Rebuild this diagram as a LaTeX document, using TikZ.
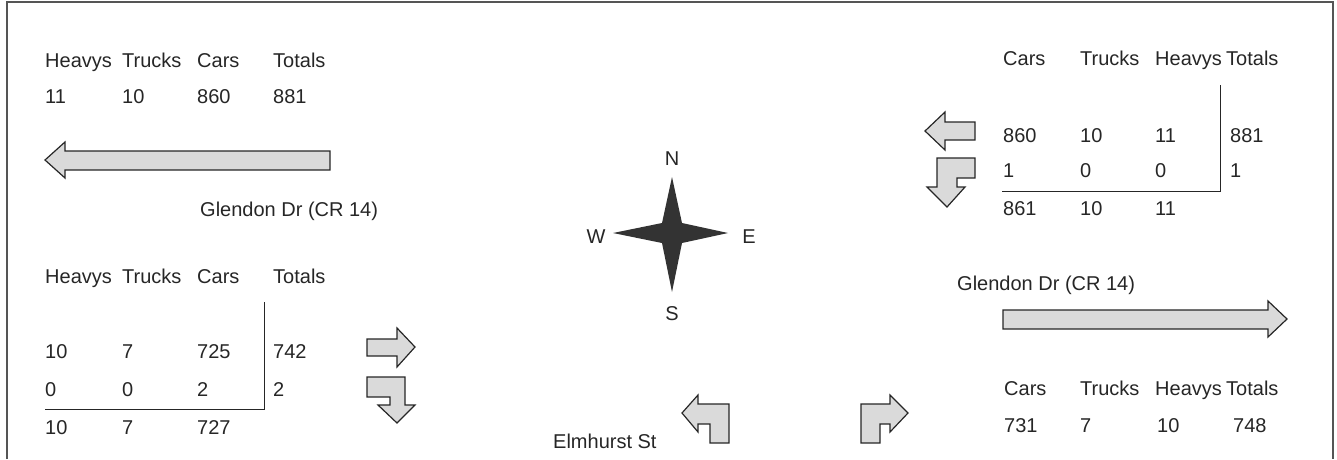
\documentclass[tikz,border=0pt]{standalone}
\usepackage{fontspec}
\setmainfont{Liberation Sans}
\usetikzlibrary{positioning}
\definecolor{arrowgrey}{HTML}{DADADA}
\definecolor{inkgrey}{HTML}{262626}
\definecolor{stargrey}{HTML}{333333}
\definecolor{framegrey}{HTML}{555555}

\tikzset{
  cell/.style={anchor=base west, inner sep=0pt, font=\fontsize{20}{24}\selectfont, text=inkgrey},
  mid/.style={cell, anchor=base},
  flowarrow/.style={fill=arrowgrey, draw=inkgrey, line width=1.2pt, line join=miter},
  tableline/.style={draw=inkgrey, line width=1pt},
}

\begin{document}
\begin{tikzpicture}[x=1pt,y=-1pt]
\useasboundingbox (0,0) rectangle (1337,459);
\draw[framegrey, line width=2.2pt] (7,459) -- (7,2) -- (1333,2) -- (1333,459);

% westbound leg, top left
\foreach \txt/\x [count=\i] in {Heavys/45,Trucks/122,Cars/197,Totals/273}
  \node[cell] (wbh\i) at (\x,67) {\txt};
\foreach \txt/\x [count=\i] in {11/45,10/122,860/197,881/273}
  \node[cell] (wbd\i) at (\x,103) {\txt};
\draw[flowarrow] (330,151) -- (65,151) -- (65,142) -- (45,160) -- (65,178) -- (65,170) -- (330,170) -- cycle;
\node[cell] (glendonw) at (200,216) {Glendon Dr (CR 14)};

% eastbound approach, bottom left
\foreach \txt/\x [count=\i] in {Heavys/45,Trucks/122,Cars/197,Totals/273}
  \node[cell] (eah\i) at (\x,283) {\txt};
\foreach \txt/\x [count=\i] in {10/45,7/122,725/197,742/273}
  \node[cell] (eaa\i) at (\x,358) {\txt};
\foreach \txt/\x [count=\i] in {0/45,0/122,2/197,2/273}
  \node[cell] (eab\i) at (\x,396) {\txt};
\foreach \txt/\x [count=\i] in {10/45,7/122,727/197}
  \node[cell] (eat\i) at (\x,434) {\txt};
\draw[tableline] (45,409) -- (264,409) -- (264,302);
\draw[flowarrow] (367,339) -- (397,339) -- (397,328) -- (415,347) -- (397,367) -- (397,356) -- (367,356) -- cycle;
\draw[flowarrow] (367,377) -- (405,377) -- (405,405) -- (415,405) -- (397,423) -- (378,405) -- (390,405) -- (390,397) -- (367,397) -- cycle;

% westbound approach, top right
\foreach \txt/\x [count=\i] in {Cars/1003,Trucks/1080,Heavys/1155,Totals/1226}
  \node[cell] (wah\i) at (\x,65) {\txt};
\foreach \txt/\x [count=\i] in {860/1003,10/1080,11/1155,881/1230}
  \node[cell] (waa\i) at (\x,142) {\txt};
\foreach \txt/\x [count=\i] in {1/1003,0/1080,0/1155,1/1230}
  \node[cell] (wab\i) at (\x,177) {\txt};
\foreach \txt/\x [count=\i] in {861/1003,10/1080,11/1155}
  \node[cell] (wat\i) at (\x,215) {\txt};
\draw[tableline] (1002,191) -- (1220,191) -- (1220,85);
\draw[flowarrow] (975,122) -- (945,122) -- (945,112) -- (925,131) -- (945,150) -- (945,140) -- (975,140) -- cycle;
\draw[flowarrow] (937,158) -- (975,158) -- (975,178) -- (957,178) -- (957,187) -- (965,187) -- (947,207) -- (927,187) -- (937,187) -- cycle;

% eastbound leg, bottom right
\node[cell] (glendone) at (957,290) {Glendon Dr (CR 14)};
\draw[flowarrow] (1003,310) -- (1268,310) -- (1268,301) -- (1287,319) -- (1268,337) -- (1268,329) -- (1003,329) -- cycle;
\foreach \txt/\x [count=\i] in {Cars/1004,Trucks/1080,Heavys/1155,Totals/1226}
  \node[cell] (ebh\i) at (\x,395) {\txt};
\foreach \txt/\x [count=\i] in {731/1004,7/1080,10/1157,748/1233}
  \node[cell] (ebd\i) at (\x,432) {\txt};

% northbound approach, bottom centre
\node[cell] (elmhurst) at (553,448) {Elmhurst St};
\draw[flowarrow] (729,443) -- (729,404) -- (698,404) -- (698,395) -- (682,413) -- (698,432) -- (698,424) -- (710,424) -- (710,443) -- cycle;
\draw[flowarrow] (861,443) -- (861,404) -- (890,404) -- (890,395) -- (908,413) -- (890,432) -- (890,424) -- (880,424) -- (880,443) -- cycle;

% compass
\fill[stargrey] (672,177) -- (682,223) -- (728,233) -- (682,243) -- (672,292)
  -- (662,243) -- (613,233) -- (662,223) -- cycle;
\node[mid] (north) at (672,165) {N};
\node[mid] (south) at (672,320) {S};
\node[mid] (west) at (596,243) {W};
\node[mid] (east) at (749,243) {E};
\end{tikzpicture}
\end{document}
